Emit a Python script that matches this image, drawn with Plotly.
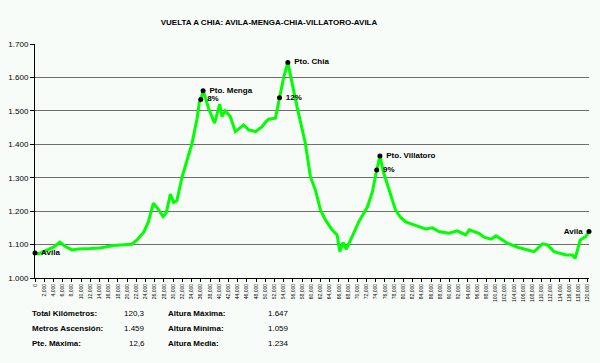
import plotly.graph_objects as go

km = [0.0, 0.7, 2.0, 4.0, 5.4, 6.5, 8.0, 9.4, 12.0, 14.1, 17.0, 19.9, 21.0, 22.1, 23.6, 24.6,
      25.7, 26.8, 27.8, 28.5, 29.4, 30.1, 30.8, 31.9, 33.0, 34.1, 35.2, 35.7, 36.0, 36.5,
      37.2, 37.7, 39.0, 40.1, 40.6, 41.3, 42.4, 43.5, 45.3, 46.4, 47.9, 49.3, 50.0, 50.7,
      52.2, 53.1, 54.0, 54.9, 55.8, 56.9, 57.8, 58.7, 59.8, 60.9, 62.0, 63.1, 64.5, 65.6,
      66.2, 66.9, 67.6, 68.9, 70.3, 72.2, 73.3, 74.2, 74.9, 75.6, 76.5, 78.3, 79.4, 80.5,
      82.3, 84.8, 86.3, 87.7, 89.9, 91.7, 93.5, 94.3, 96.4, 97.5, 99.0, 100.1, 102.6, 104.8,
      108.4, 110.2, 111.3, 112.7, 115.3, 116.7, 117.3, 118.4, 119.6, 120.3]
alt = [1075, 1072, 1080, 1092, 1107, 1095, 1084, 1087, 1088, 1090, 1097, 1100, 1101, 1113, 1137, 1167,
       1224, 1205, 1184, 1195, 1251, 1226, 1231, 1300, 1350, 1403, 1478, 1527, 1534, 1560,
       1530, 1507, 1463, 1520, 1483, 1500, 1483, 1438, 1458, 1443, 1438, 1453, 1465, 1475,
       1478, 1539, 1600, 1645, 1582, 1512, 1458, 1403, 1303, 1263, 1203, 1173, 1144, 1129,
       1079, 1106, 1086, 1124, 1168, 1213, 1260, 1323, 1365, 1320, 1283, 1203, 1181, 1168,
       1159, 1147, 1150, 1139, 1134, 1141, 1129, 1144, 1134, 1122, 1116, 1126, 1104, 1092,
       1079, 1102, 1099, 1079, 1069, 1069, 1059, 1114, 1124, 1139]

mark_km = [0.0, 36.0, 36.5, 53.1, 54.9, 74.2, 74.9, 120.3]
mark_alt = [1075, 1534, 1560, 1539, 1645, 1323, 1365, 1139]
mark_text = ["Avila", "8%", "Pto. Menga", "12%", "Pto. Chia", "9%", "Pto. Villatoro", "Avila"]
mark_pos = ["middle right", "middle right", "middle right", "middle right", "middle right",
            "middle right", "middle right", "middle left"]

tick_km = list(range(0, 121, 2))
tick_text = ["0" if k == 0 else f"{k:.3f}".replace(".", ",") for k in tick_km]

stat_labels_1 = ["Total Kilómetros:", "Metros Ascensión:", "Pte. Máxima:"]
stat_values_1 = ["120,3", "1.459", "12,6"]
stat_labels_2 = ["Altura Máxima:", "Altura Mínima:", "Altura Media:"]
stat_values_2 = ["1.647", "1.059", "1.234"]

title = "VUELTA A CHIA: AVILA-MENGA-CHIA-VILLATORO-AVILA"

FONT = "Liberation Sans"
BG = "#F8FCF8"

fig = go.Figure()
fig.add_trace(go.Scatter(x=km, y=alt, mode="lines",
                         line=dict(color="#00FF00", width=3), hoverinfo="skip"))
fig.add_trace(go.Scatter(x=mark_km, y=mark_alt, mode="markers+text",
                         marker=dict(color="black", size=5),
                         text=["<b> %s</b>" % t if p == "middle right" else "<b>%s </b>" % t
                               for t, p in zip(mark_text, mark_pos)],
                         textposition=mark_pos,
                         textfont=dict(family=FONT, size=8, color="black"),
                         cliponaxis=False))

row_y = [313, 328, 343]
for i in range(3):
    yy = 1 - (row_y[i] - 44) / 234.0  # paper coords relative to plot area
    fig.add_annotation(x=-5 / 554.0, y=yy, xref="paper", yref="paper", xanchor="left",
                       yanchor="middle", showarrow=False, text="<b>%s</b>" % stat_labels_1[i],
                       font=dict(family=FONT, size=8, color="black"))
    fig.add_annotation(x=112 / 554.0, y=yy, xref="paper", yref="paper", xanchor="right",
                       yanchor="middle", showarrow=False, text=stat_values_1[i],
                       font=dict(family=FONT, size=8, color="black"))
    fig.add_annotation(x=131 / 554.0, y=yy, xref="paper", yref="paper", xanchor="left",
                       yanchor="middle", showarrow=False, text="<b>%s</b>" % stat_labels_2[i],
                       font=dict(family=FONT, size=8, color="black"))
    fig.add_annotation(x=256 / 554.0, y=yy, xref="paper", yref="paper", xanchor="right",
                       yanchor="middle", showarrow=False, text=stat_values_2[i],
                       font=dict(family=FONT, size=8, color="black"))

fig.update_layout(
    width=600, height=363,
    margin=dict(l=35, r=11, t=44, b=85, autoexpand=False),
    paper_bgcolor=BG, plot_bgcolor=BG,
    showlegend=False,
    separators=",.",
    title=dict(text="<b>%s</b>" % title, x=269 / 600.0, xanchor="center", xref="container",
               y=1 - 22 / 363.0, yref="container", yanchor="middle",
               font=dict(family=FONT, size=8, color="black")),
    xaxis=dict(range=[0, 120.3], tickvals=tick_km, ticktext=tick_text, tickangle=-90,
               tickfont=dict(family=FONT, size=5, color="black"), automargin=False,
               showgrid=False, zeroline=False, showline=True, linecolor="black", linewidth=1,
               ticks="outside", ticklen=3, tickcolor="black"),
    yaxis=dict(range=[1000, 1700], tickvals=[1000, 1100, 1200, 1300, 1400, 1500, 1600, 1700],
               tickformat=",d", tickfont=dict(family=FONT, size=8, color="black"),
               automargin=False,
               showgrid=True, gridcolor="#6E6E6E", gridwidth=1, zeroline=False,
               showline=True, linecolor="black", linewidth=1,
               ticks="outside", ticklen=4, tickcolor="black"),
)
fig.update_yaxes(tickprefix="<b>", ticksuffix="</b>")

fig.write_html("out.html", config={"displayModeBar": False},
               post_script="document.body.style.margin='0';document.body.style.background='%s';" % BG)
